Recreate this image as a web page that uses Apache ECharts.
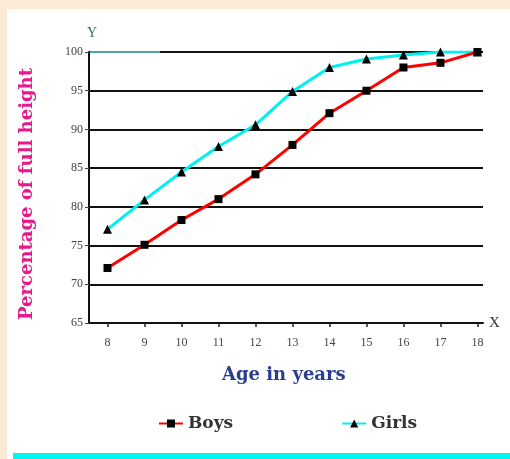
<!DOCTYPE html>
<html>
<head>
<meta charset="utf-8">
<script src="https://cdn.jsdelivr.net/npm/echarts@6/dist/echarts.min.js"></script>
<style>html,body{margin:0;padding:0;background:#fff;}#c{width:510px;height:459px;}</style>
</head>
<body>
<div id="c"></div>
<script>
var ages = [8, 9, 10, 11, 12, 13, 14, 15, 16, 17, 18];
var boys = [72.1, 75.1, 78.3, 81.0, 84.2, 88.0, 92.1, 95.0, 98.0, 98.6, 100];
var girls = [77.1, 80.9, 84.5, 87.8, 90.6, 94.9, 98.0, 99.1, 99.6, 100, 100];
var yTicks = [65, 70, 75, 80, 85, 90, 95, 100];

function pairs(xs, ys) { return xs.map(function (x, i) { return [x, ys[i]]; }); }

var chart = echarts.init(document.getElementById('c'), null, { renderer: 'canvas' });
var serif = 'Liberation Serif';
var option = {
  animation: false,
  backgroundColor: '#fff',
  grid: { left: 89, top: 52, right: 27, bottom: 136, containLabel: false },
  xAxis: {
    type: 'value', min: 7.5, max: 18.15,
    name: 'X', nameLocation: 'end', nameGap: 6,
    nameTextStyle: { fontFamily: serif, fontSize: 15, color: '#333', verticalAlign: 'middle' },
    axisLine: { show: true, lineStyle: { color: '#111', width: 2 } },
    axisTick: { show: true, length: 4, customValues: ages, lineStyle: { color: '#222', width: 1.5 } },
    axisLabel: { customValues: ages, fontFamily: serif, fontSize: 12, color: '#444', margin: 14 },
    splitLine: { show: false }
  },
  yAxis: {
    type: 'value', min: 65, max: 100, interval: 5,
    name: 'Y', nameLocation: 'end', nameGap: 12,
    nameTextStyle: { fontFamily: serif, fontSize: 14, color: '#2f6f6a', align: 'left', padding: [0, 0, 0, -2] },
    axisLine: { show: true, lineStyle: { color: '#111', width: 2 } },
    axisTick: { show: true, length: 4, lineStyle: { color: '#444', width: 1 } },
    axisLabel: { fontFamily: serif, fontSize: 12, color: '#444', margin: 6 },
    splitLine: { show: true, lineStyle: { color: '#111', width: 2 } }
  },
  legend: {
    left: 153, top: 410, itemGap: 108, itemWidth: 24, itemHeight: 10,
    textStyle: { fontFamily: 'DejaVu Serif', fontWeight: 'bold', fontSize: 17, color: '#333' },
    data: ['Boys', 'Girls']
  },
  series: [
    {
      name: 'Girls', type: 'line', data: pairs(ages, girls),
      symbol: 'triangle', symbolSize: 9,
      itemStyle: { color: '#000' },
      lineStyle: { color: '#00f0f0', width: 3 }, z: 2
    },
    {
      name: 'Boys', type: 'line', data: pairs(ages, boys),
      symbol: 'rect', symbolSize: 8,
      itemStyle: { color: '#000' },
      lineStyle: { color: '#ff0000', width: 3 }, z: 3
    }
  ],
  graphic: [
    { type: 'rect', z: -10, silent: true, shape: { x: 0, y: 0, width: 510, height: 459 }, style: { fill: '#fcead6' } },
    { type: 'rect', z: -9, silent: true, shape: { x: 7, y: 9, width: 503, height: 450 }, style: { fill: '#ffffff' } },
    { type: 'rect', z: -8, silent: true, shape: { x: 13, y: 453, width: 497, height: 6 }, style: { fill: '#00f5f5' } },
    { type: 'line', z: 10, silent: true, shape: { x1: 90, y1: 52, x2: 160, y2: 52 }, style: { stroke: '#4aa7a7', lineWidth: 2 } },
    { type: 'text', left: 222, top: 366, silent: true,
      style: { text: 'Age in years', font: 'bold 18px "DejaVu Serif"', fill: '#2b3d8f' } },
    { type: 'text', silent: true, x: 27, y: 194, rotation: Math.PI / 2,
      style: { text: 'Percentage of full height', font: 'bold 18px "DejaVu Serif"', fill: '#e8178a', align: 'center', verticalAlign: 'middle' } }
  ]
};
chart.setOption(option);
</script>
</body>
</html>
